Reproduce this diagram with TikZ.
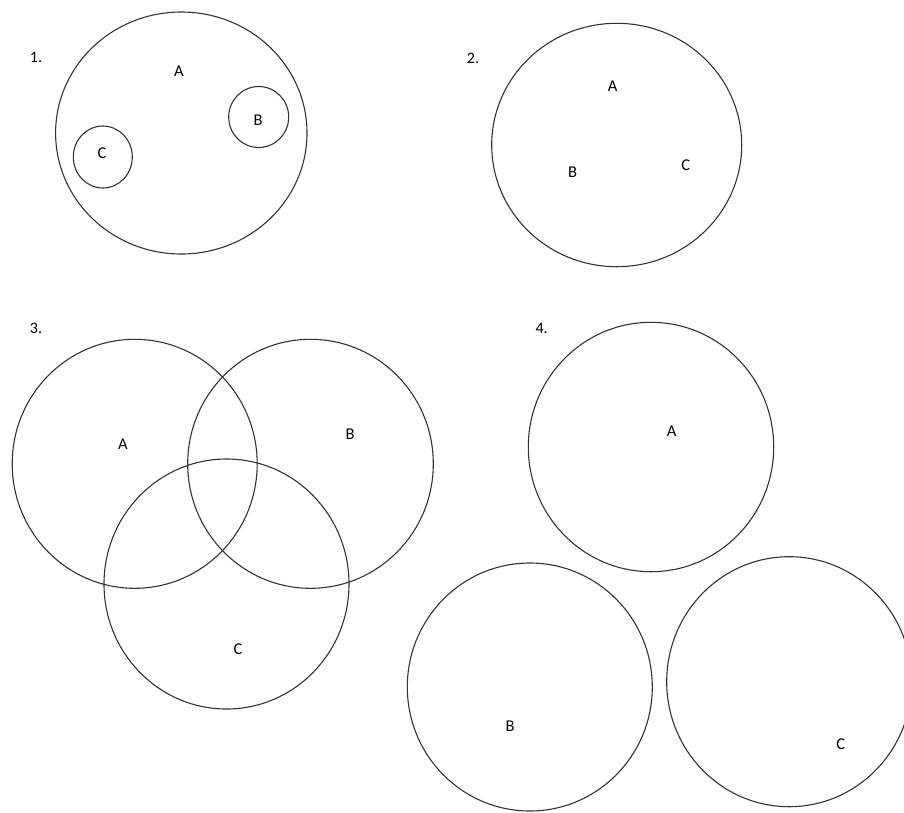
\documentclass[tikz,border=0pt]{standalone}
\usepackage{fontspec}
\setmainfont{Carlito}
\usetikzlibrary{positioning}

% one set: ellipse plus its letter
\newcommand{\setring}[5]{%
  \draw[ring] (#1) ellipse [x radius=#2, y radius=#3];
  \node[setlabel] (#4) at (#5) {#4};
}

\begin{document}
\begin{tikzpicture}[
    x=1pt, y=-1pt,
    ring/.style={draw=black!80, line width=1.1pt},
    setlabel/.style={font=\fontsize{16.5}{19}\selectfont, inner sep=0pt},
    partnum/.style={font=\fontsize{16}{19}\selectfont, inner sep=0pt}
  ]
  \useasboundingbox (0,0) rectangle (904,812);

  % 1. B and C inside A
  \begin{scope}[name prefix=one-]
    \node[partnum] (num) at (36,57) {1.};
    \setring{181.3,133}{125.7}{121}{A}{179,71}
    \setring{258.7,117}{30}{30.5}{B}{258,120}
    \setring{102.8,157}{29.5}{31}{C}{102,153}
  \end{scope}

  % 2. all three in one set
  \begin{scope}[name prefix=two-]
    \node[partnum] (num) at (473,58) {2.};
    \draw[ring] (616.7,145) ellipse [x radius=125, y radius=121.7];
    \node[setlabel] (A) at (612.7,86) {A};
    \node[setlabel] (B) at (572.7,172) {B};
    \node[setlabel] (C) at (685.7,165) {C};
  \end{scope}

  % 3. overlapping sets
  \begin{scope}[name prefix=three-]
    \node[partnum] (num) at (36,328) {3.};
    \setring{134.7,463.8}{122.5}{124.5}{A}{123,444}
    \setring{310.5,463.8}{122.8}{124.5}{B}{350,434}
    \setring{226.5,584}{122.5}{125}{C}{238,649}
  \end{scope}

  % 4. disjoint sets
  \begin{scope}[name prefix=four-]
    \node[partnum] (num) at (541.7,328.3) {4.};
    \setring{651,447}{122.7}{124.7}{A}{671.7,431}
    \setring{529.8,687}{122.5}{124}{B}{510,726}
    \setring{789.2,681.7}{122.5}{125}{C}{840.7,744.3}
  \end{scope}

\end{tikzpicture}
\end{document}
